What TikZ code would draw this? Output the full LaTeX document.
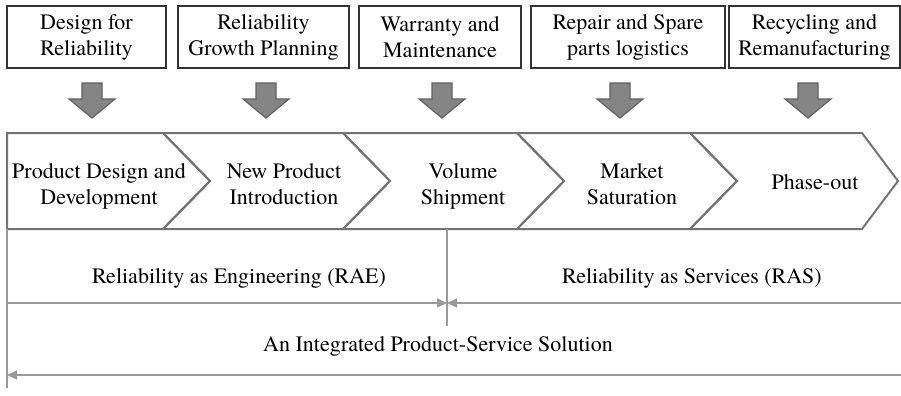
\documentclass[tikz,border=0pt]{standalone}
\usepackage{fontspec}
\setmainfont{texgyretermes-regular.otf}
\usetikzlibrary{arrows.meta}

\tikzset{
  topbox/.style={draw=black!80, line width=0.6pt, minimum height=31pt, align=center, inner sep=0pt},
  chev/.style={draw=black!55, line width=1pt},
  blk/.style={fill=black!48, draw=black!62, line width=0.6pt},
  span/.style={draw=black!40, line width=0.7pt},
  spanarrow/.style={span, {Triangle[length=5pt,width=4.5pt]}-},
}

\begin{document}
\begin{tikzpicture}[x=0.5pt, y=-0.5pt, font=\fontsize{11}{13}\selectfont]
			\useasboundingbox (0,0) rectangle (901,396);
			\def\ctop{133}
			\def\cbot{229}
			\def\cmid{181}
			\def\dep{47}
			% activity boxes
			\node[topbox, minimum width=79.5pt] (dfr) at (86.5,37) {Design for\\Reliability};
			\node[topbox, minimum width=85.5pt] (rgp) at (263.5,37) {Reliability\\Growth Planning};
			\node[topbox, minimum width=81pt] (wm) at (440,37) {Warranty and\\Maintenance};
			\node[topbox, minimum width=97pt] (rsp) at (628,37) {Repair and Spare\\parts logistics};
			\node[topbox, minimum width=85.5pt] (rr) at (814.5,37) {Recycling and\\Remanufacturing};
			% block arrows
			\foreach \x in {92,266,442,620,808}
				\draw[blk] (\x,118) -- ++(-23,-19) -- ++(13,0) -- ++(0,-16) -- ++(20,0) -- ++(0,16) -- ++(13,0) -- cycle;
			% life cycle chevrons
			\draw[chev] (7,\ctop) -- (163,\ctop) -- (163+\dep,\cmid) -- (163,\cbot) -- (7,\cbot) -- cycle;
			\foreach \a/\b in {163/343,343/517,517/690}
				\draw[chev] (\a,\ctop) -- (\b,\ctop) -- ({\b+\dep},\cmid) -- (\b,\cbot) -- (\a,\cbot) -- ({\a+\dep},\cmid) -- cycle;
			\draw[chev] (690,\ctop) -- (862,\ctop) -- (898,\cmid) -- (862,\cbot) -- (690,\cbot) -- (690+\dep,\cmid) -- cycle;
			\node[align=center] (pdd) at (99,186) {Product Design and\\Development};
			\node[align=center] (npi) at (284,184) {New Product\\Introduction};
			\node[align=center] (vs) at (463,186) {Volume\\Shipment};
			\node[align=center] (ms) at (632,184) {Market\\Saturation};
			\node (po) at (815,182) {Phase-out};
			% spans
			\coordinate (lt) at (7,\cbot);
			\coordinate (lb) at (7,388);
			\coordinate (mt) at (447,\cbot);
			\coordinate (mb) at (447,326);
			\coordinate (ra) at (7,303);
			\coordinate (rm) at (447,303);
			\coordinate (re) at (901,303);
			\coordinate (ia) at (7,375);
			\coordinate (ie) at (901,375);
			\draw[span] (lt) -- (lb);
			\draw[span] (mt) -- (mb);
			\draw[spanarrow, -{Triangle[length=5pt,width=4.5pt]}] (ra) -- (rm);
			\draw[spanarrow] (rm) -- (re);
			\draw[spanarrow] (ia) -- (ie);
			\node (rae) at (239,278) {Reliability as Engineering (RAE)};
			\node (ras) at (692,278) {Reliability as Services (RAS)};
			\node (ips) at (438,346) {An Integrated Product-Service Solution};
		\end{tikzpicture}
\end{document}
